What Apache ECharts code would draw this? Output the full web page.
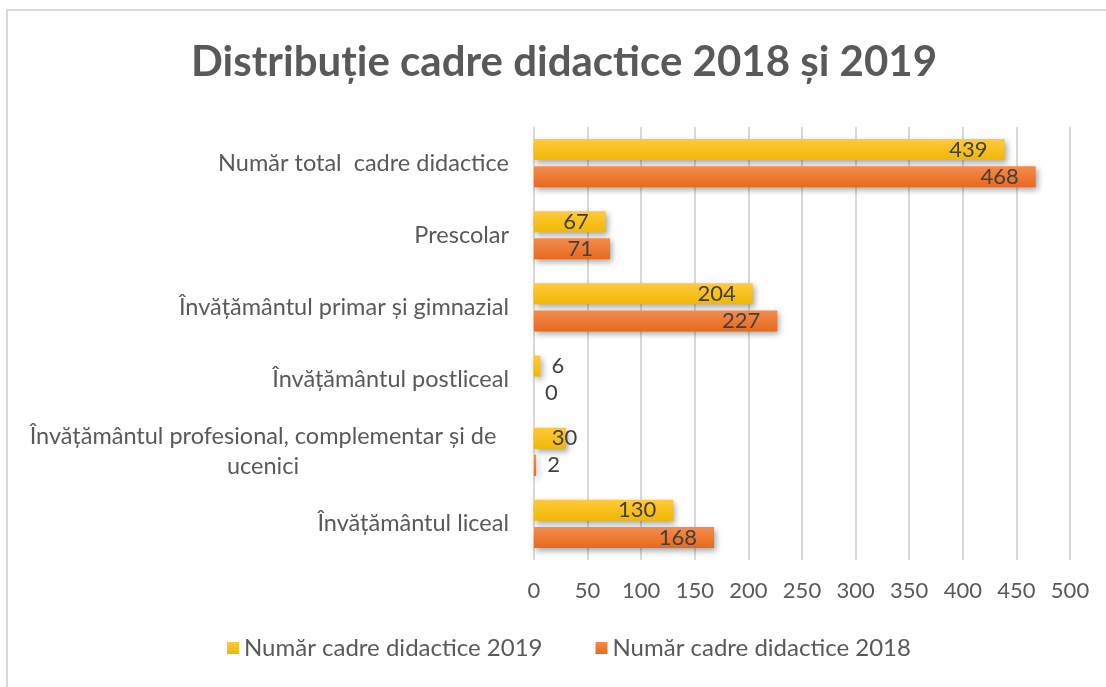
<!DOCTYPE html>
<html>
<head>
<meta charset="utf-8">
<script src="https://cdn.jsdelivr.net/npm/echarts@6/dist/echarts.min.js"></script>
<style>
  html, body { margin: 0; padding: 0; background: #fff; }
  #frame { position: absolute; left: 6px; top: 9px; width: 1200px; height: 800px; border: 2px solid #d9d9d9; }
  #chart { position: absolute; left: 0; top: 0; width: 1106px; height: 687px; }
</style>
</head>
<body>
<div id="frame"></div>
<div id="chart"></div>
<script>
// categories, top to bottom
var categories = [
  'Număr total  cadre didactice',
  'Prescolar',
  'Învățământul primar și gimnazial',
  'Învățământul postliceal',
  'Învățământul profesional, complementar și de\nucenici',
  'Învățământul liceal'
]
var values2019 = [439, 67, 204, 6, 30, 130]
var values2018 = [468, 71, 227, 0, 2, 168]
var xTicks = [0, 500, 50]

var textColor = '#595959'
var font = 'Lato, "Open Sans", sans-serif'

function gradient(top, bottom) {
  return new echarts.graphic.LinearGradient(0, 0, 0, 1, [
    { offset: 0, color: top },
    { offset: 1, color: bottom }
  ])
}

// small bars get the label outside, the 30 one slightly overflows like in Excel
function labelFor(v) {
  if (v < 20) return { position: 'right', distance: 11 }
  if (v < 50) return { position: 'insideRight', distance: -11 }
  return { position: 'insideRight', distance: 17 }
}

function buildData(arr) {
  return arr.map(function (v) {
    return { value: v, label: labelFor(v) }
  })
}

var chart = echarts.init(document.getElementById('chart'))
chart.setOption({
  animation: false,
  title: {
    text: 'Distribuție cadre didactice 2018 și 2019',
    left: 186,
    top: 36,
    textStyle: { fontFamily: font, fontSize: 42, fontWeight: 'bold', color: textColor }
  },
  grid: { left: 534, right: 36, top: 127, height: 433 },
  legend: {
    bottom: 22,
    left: 222,
    itemWidth: 12,
    itemHeight: 12,
    itemGap: 53,
    icon: 'rect',
    textStyle: { fontFamily: font, fontSize: 24, color: textColor },
    data: ['Număr cadre didactice 2019', 'Număr cadre didactice 2018']
  },
  xAxis: {
    type: 'value',
    min: xTicks[0],
    max: xTicks[1],
    interval: xTicks[2],
    axisLine: { show: false },
    axisTick: { show: false },
    axisLabel: { fontFamily: font, fontSize: 22, color: textColor, margin: 20 },
    splitLine: { show: true, lineStyle: { color: '#d9d9d9', width: 2 } }
  },
  yAxis: {
    type: 'category',
    inverse: true,
    data: categories.map(function (c) {
      if (c.indexOf('\n') >= 0) {
        return { value: c, textStyle: { align: 'center', padding: [0, 492, 0, 0] } }
      }
      return c
    }),
    axisLine: { show: false },
    axisTick: { show: false },
    axisLabel: { fontFamily: font, fontSize: 23.5, color: textColor, margin: 25, lineHeight: 30 }
  },
  series: [
    {
      name: 'Număr cadre didactice 2019',
      type: 'bar',
      barWidth: 21,
      barGap: '29%',
      data: buildData(values2019),
      itemStyle: {
        color: gradient('#ffc93e', '#f0b800'),
        shadowColor: 'rgba(0,0,0,0.35)',
        shadowBlur: 6,
        shadowOffsetX: 2,
        shadowOffsetY: 3
      },
      label: { show: true, fontFamily: font, fontSize: 22, color: '#404040' }
    },
    {
      name: 'Număr cadre didactice 2018',
      type: 'bar',
      barWidth: 21,
      data: buildData(values2018),
      itemStyle: {
        color: gradient('#f48c4c', '#e8691d'),
        shadowColor: 'rgba(0,0,0,0.35)',
        shadowBlur: 6,
        shadowOffsetX: 2,
        shadowOffsetY: 3
      },
      label: { show: true, fontFamily: font, fontSize: 22, color: '#404040' }
    }
  ]
})
</script>
</body>
</html>
